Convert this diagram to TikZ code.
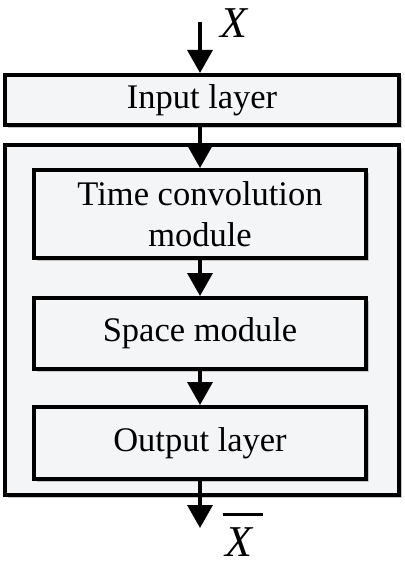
\documentclass[tikz,border=0pt]{standalone}
\usepackage{fontspec}
\setmainfont{Liberation Serif}
\usetikzlibrary{arrows.meta,shadows}
\definecolor{boxfill}{HTML}{F4F5F7}
\definecolor{shade}{HTML}{C4C4C4}
\tikzset{
  blk/.style={draw=black, line width=4pt, fill=boxfill, inner sep=0pt,
    align=center, font=\fontsize{34.5}{41}\selectfont,
    drop shadow={shadow xshift=3pt, shadow yshift=-3pt, fill=shade, opacity=1}},
  flow/.style={line width=3.5pt, -{Triangle[length=23pt,width=25pt]}},
  lbl/.style={inner sep=0pt, font=\fontsize{44}{44}\selectfont\itshape}
}
\begin{document}
\begin{tikzpicture}[x=1pt,y=-1pt]
\useasboundingbox (0,0) rectangle (404,567);
\node[blk, minimum width=394pt, minimum height=50pt] (in) at (202,100) {Input layer};
\node[blk, minimum width=394pt, minimum height=350pt] (box) at (202,320) {};
\node[blk, minimum width=332pt, minimum height=88pt] (tc) at (200,214) {Time convolution\\module};
\node[blk, minimum width=332pt, minimum height=71pt] (sp) at (200,333.5) {Space module};
\node[blk, minimum width=332pt, minimum height=72pt] (out) at (200,443) {Output layer};
\coordinate (top) at (200,22);
\coordinate (bot) at (200,528);
\node[lbl] (x) at (234,23) {X};
\node[lbl] (xb) at (244,535) {\vbox{\offinterlineskip\hbox{\kern-3pt\vrule width 40pt height 3pt}\vskip 12pt\hbox{X}}};
\draw[flow] (top) -- (in.north -| top);
\draw[flow] (in.south -| tc.north) -- (tc.north);
\draw[flow] (tc.south) -- (sp.north);
\draw[flow] (sp.south) -- (out.north);
\draw[flow] (out.south) -- (bot);
\end{tikzpicture}
\end{document}
